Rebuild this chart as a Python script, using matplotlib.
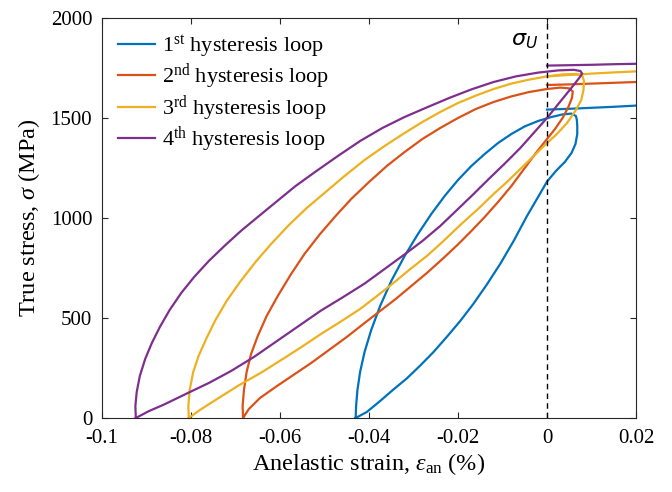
import numpy as np
import matplotlib
matplotlib.use("Agg")
import matplotlib.pyplot as plt

plt.rcParams['font.family'] = ['Liberation Serif', 'DejaVu Serif']
plt.rcParams['mathtext.fontset'] = 'custom'
plt.rcParams['mathtext.rm'] = 'Liberation Serif'
plt.rcParams['mathtext.it'] = 'Liberation Serif:italic'
plt.rcParams['axes.unicode_minus'] = False

# loop 1 (blue): rising branch from the bottom, falling branch back, flat line past 0
up1_x = [-0.0430, -0.0429, -0.0426, -0.0420, -0.0410, -0.0395, -0.0375, -0.0350, -0.0320,
         -0.0290, -0.0260, -0.0230, -0.0200, -0.0170, -0.0140, -0.0110, -0.0080, -0.0050,
         -0.0020, 0.0010, 0.0035, 0.0055, 0.0065, 0.0067]
up1_y = [0, 60, 140, 230, 330, 440, 560, 685, 810, 920, 1020, 1110, 1190, 1260, 1320, 1375,
         1420, 1458, 1485, 1505, 1518, 1522, 1510, 1492]
dn1_x = [0.0067, 0.0068, 0.0068, 0.0064, 0.0055, 0.0040, 0.0020, 0.0000, -0.0020, -0.0045,
         -0.0075, -0.0105, -0.0135, -0.0165, -0.0195, -0.0225, -0.0255, -0.0285, -0.0315,
         -0.0346, -0.0375, -0.0405, -0.0430]
dn1_y = [1492, 1460, 1420, 1370, 1325, 1280, 1235, 1182, 1105, 1010, 885, 771, 668, 572, 485,
         406, 330, 262, 198, 141, 85, 30, 0]
fl1_x = [0.0, 0.005, 0.01, 0.015, 0.02]
fl1_y = [1542, 1546, 1551, 1556, 1562]

# loop 2 (orange)
up2_x = [-0.0683, -0.0684, -0.0681, -0.0675, -0.0665, -0.0650, -0.0630, -0.0605, -0.0575,
         -0.0545, -0.0510, -0.0475, -0.0440, -0.0400, -0.0360, -0.0320, -0.0280, -0.0240,
         -0.0200, -0.0160, -0.0120, -0.0080, -0.0040, 0.0000, 0.0030, 0.0050, 0.0058]
up2_y = [0, 60, 140, 230, 320, 410, 510, 610, 720, 820, 920, 1010, 1095, 1180, 1260, 1330,
         1395, 1450, 1500, 1545, 1580, 1608, 1630, 1645, 1652, 1648, 1632]
dn2_x = [0.0058, 0.0056, 0.0048, 0.0035, 0.0018, 0.0000, -0.0025, -0.0050, -0.0080, -0.0110,
         -0.0140, -0.0170, -0.0200, -0.0235, -0.0270, -0.0305, -0.0340, -0.0375, -0.0410,
         -0.0450, -0.0490, -0.0530, -0.0570, -0.0610, -0.0645, -0.0670, -0.0683]
dn2_y = [1632, 1600, 1555, 1500, 1445, 1395, 1325, 1250, 1160, 1080, 1005, 935, 868, 795, 725,
         660, 595, 535, 475, 405, 340, 275, 215, 155, 100, 45, 0]
fl2_x = [0.0, 0.005, 0.01, 0.015, 0.02]
fl2_y = [1665, 1668, 1672, 1676, 1680]

# loop 3 (yellow)
up3_x = [-0.0805, -0.0806, -0.0803, -0.0795, -0.0783, -0.0765, -0.0745, -0.0720, -0.0690,
         -0.0655, -0.0620, -0.0580, -0.0540, -0.0500, -0.0455, -0.0410, -0.0365, -0.0320,
         -0.0280, -0.0240, -0.0200, -0.0160, -0.0120, -0.0080, -0.0040, 0.0000, 0.0035,
         0.0065, 0.0080, 0.0083]
up3_y = [0, 60, 140, 230, 310, 400, 490, 585, 680, 780, 870, 965, 1050, 1125, 1210, 1290, 1360,
         1425, 1480, 1530, 1575, 1612, 1645, 1672, 1692, 1708, 1718, 1720, 1708, 1685]
dn3_x = [0.0083, 0.0082, 0.0077, 0.0065, 0.0045, 0.0020, 0.0000, -0.0030, -0.0060, -0.0090,
         -0.0120, -0.0155, -0.0195, -0.0235, -0.0270, -0.0310, -0.0345, -0.0385, -0.0420,
         -0.0465, -0.0508, -0.0545, -0.0583, -0.0640, -0.0695, -0.0745, -0.0780, -0.0805]
dn3_y = [1685, 1640, 1590, 1540, 1475, 1415, 1375, 1310, 1245, 1180, 1120, 1045, 965, 880, 810,
         740, 675, 605, 545, 480, 420, 365, 310, 230, 160, 90, 40, 0]
fl3_x = [0.0, 0.005, 0.01, 0.015, 0.02]
fl3_y = [1708, 1715, 1722, 1728, 1733]

# loop 4 (purple)
up4_x = [-0.0924, -0.0925, -0.0922, -0.0915, -0.0903, -0.0888, -0.0870, -0.0848, -0.0822,
         -0.0793, -0.0760, -0.0725, -0.0688, -0.0650, -0.0610, -0.0565, -0.0520, -0.0470,
         -0.0420, -0.0370, -0.0320, -0.0270, -0.0220, -0.0170, -0.0120, -0.0070, -0.0020,
         0.0025, 0.0060, 0.0075, 0.0079]
up4_y = [0, 60, 130, 210, 295, 375, 455, 540, 625, 705, 785, 860, 935, 1005, 1078, 1160, 1232,
         1310, 1385, 1450, 1505, 1553, 1600, 1643, 1680, 1708, 1727, 1738, 1741, 1735, 1722]
dn4_x = [0.0079, 0.0074, 0.0060, 0.0040, 0.0020, 0.0000, -0.0030, -0.0060, -0.0095, -0.0130,
         -0.0165, -0.0200, -0.0240, -0.0280, -0.0320, -0.0365, -0.0410, -0.0460, -0.0508,
         -0.0560, -0.0610, -0.0658, -0.0710, -0.0760, -0.0808, -0.0860, -0.0895, -0.0924]
dn4_y = [1722, 1705, 1665, 1610, 1555, 1500, 1425, 1350, 1272, 1197, 1120, 1045, 960, 885, 818,
         745, 672, 602, 537, 457, 380, 306, 235, 175, 124, 68, 34, 0]
fl4_x = [0.0, 0.005, 0.01, 0.015, 0.02]
fl4_y = [1762, 1764, 1766, 1769, 1771]

labels = ['1$^{\\rm st}$ hysteresis loop', '2$^{\\rm nd}$ hysteresis loop',
          '3$^{\\rm rd}$ hysteresis loop', '4$^{\\rm th}$ hysteresis loop']
colors = ['#0072BD', '#D95319', '#EDB120', '#7E2F8E']
xticks = [-0.1, -0.08, -0.06, -0.04, -0.02, 0, 0.02]
xticklabels = ['-0.1', '-0.08', '-0.06', '-0.04', '-0.02', '0', '0.02']
yticks = [0, 500, 1000, 1500, 2000]

loops = [(up1_x, up1_y, dn1_x, dn1_y, fl1_x, fl1_y),
         (up2_x, up2_y, dn2_x, dn2_y, fl2_x, fl2_y),
         (up3_x, up3_y, dn3_x, dn3_y, fl3_x, fl3_y),
         (up4_x, up4_y, dn4_x, dn4_y, fl4_x, fl4_y)]

fig = plt.figure(figsize=(6.72, 4.92), dpi=100)
ax = fig.add_axes([102 / 672, 74 / 492, 534 / 672, 400 / 492])

for (ux, uy, dx, dy, fx, fy), c, lab in zip(loops, colors, labels):
    ax.plot(np.r_[ux, dx], np.r_[uy, dy], color=c, lw=1.6, label=lab)
    ax.plot(fx, fy, color=c, lw=1.6)

ax.axvline(0, color='k', lw=1, ls=(0, (4, 3)))
ax.text(-0.002, 1885, '$\\sigma_U$', fontsize=16, ha='right', va='center',
        math_fontfamily='dejavusans')

ax.set_xlim(-0.1, 0.02)
ax.set_ylim(0, 2000)
ax.set_xticks(xticks)
ax.set_xticklabels(xticklabels)
ax.set_yticks(yticks)
ax.tick_params(direction='in', top=True, right=True, length=4, labelsize=15,
               colors='#262626', labelcolor='k')
ax.tick_params(axis='x', pad=8)
ax.tick_params(axis='y', pad=7)
for s in ax.spines.values():
    s.set_color('#262626')
    s.set_linewidth(0.8)

ax.set_xlabel('Anelastic strain, $\\epsilon_{\\rm an}$ (%)', fontsize=17.5, labelpad=2)
ax.set_ylabel('True stress, $\\sigma$ (MPa)', fontsize=17.5, labelpad=6)

ax.legend(loc='upper left', frameon=False, fontsize=16, handlelength=1.7,
          labelspacing=0.07, borderaxespad=0.3, handletextpad=0.3)

fig.savefig('out.png', dpi=100)
